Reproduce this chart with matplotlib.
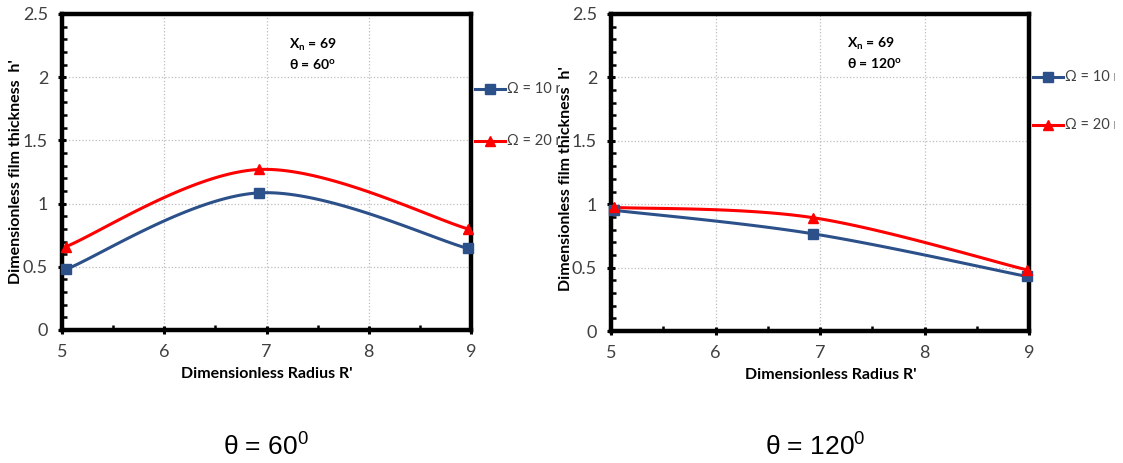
import numpy as np
import matplotlib
matplotlib.use("Agg")
import matplotlib.pyplot as plt
from matplotlib.lines import Line2D
from matplotlib.transforms import Bbox
from matplotlib.ticker import MultipleLocator

plt.rcParams['font.family'] = ['Lato', 'DejaVu Sans']
plt.rcParams['mathtext.fontset'] = 'custom'
plt.rcParams['mathtext.rm'] = 'Lato:bold'
plt.rcParams['mathtext.it'] = 'Lato:bold'
plt.rcParams['mathtext.bf'] = 'Lato:bold'
plt.rcParams['mathtext.sf'] = 'Liberation Sans'

# ---------------- data ----------------
radius_60 = [5.04, 6.93, 8.97]
h_60_omega10 = [0.48, 1.085, 0.645]
h_60_omega20 = [0.66, 1.27, 0.80]

radius_120 = [5.03, 6.93, 8.98]
h_120_omega10 = [0.952, 0.767, 0.43]
h_120_omega20 = [0.975, 0.894, 0.482]

series_labels = ["Ω = 10 rpm", "Ω = 20 rpm"]
panel_notes = [["X$_{\\mathrm{n}}$ = 69", "θ = 60$^{\\mathrm{o}}$"],
               ["X$_{\\mathrm{n}}$ = 69", "θ = 120$^{\\mathrm{o}}$"]]
captions = ["θ = $\\mathsf{60}^{\\mathsf{0}}$", "θ = $\\mathsf{120}^{\\mathsf{0}}$"]
x_ticks = [5, 6, 7, 8, 9]
y_ticks = [0, 0.5, 1, 1.5, 2, 2.5]
y_ticklabels = ["0", "0.5", "1", "1.5", "2", "2.5"]
xlabel = "Dimensionless Radius R'"
ylabel = "Dimensionless film thickness  h'"

BLUE = '#2C5089'
RED = '#FF0000'

W, H = 1123, 463
fig = plt.figure(figsize=(W / 100, H / 100), dpi=100)


def smooth(x, y, n=60):
    """Excel-style smoothed line (Catmull-Rom Bezier) through the points."""
    pts = np.column_stack([x, y]).astype(float)
    P = np.vstack([pts[0], pts, pts[-1]])
    out = []
    for i in range(len(pts) - 1):
        p0, p1, p2, p3 = P[i], P[i + 1], P[i + 2], P[i + 3]
        c1 = p1 + (p2 - p0) / 6.0
        c2 = p2 - (p3 - p1) / 6.0
        t = np.linspace(0, 1, n)[:, None]
        seg = (1 - t) ** 3 * p1 + 3 * (1 - t) ** 2 * t * c1 + 3 * (1 - t) * t ** 2 * c2 + t ** 3 * p2
        out.append(seg if i == 0 else seg[1:])
    s = np.vstack(out)
    return s[:, 0], s[:, 1]


def px_axes(l, r, t, b):
    return fig.add_axes([l / W, (H - b) / H, (r - l) / W, (b - t) / H])


panels = [
    dict(box=(62, 471, 14, 330), x=radius_60, y1=h_60_omega10, y2=h_60_omega20,
         note=panel_notes[0], note_xy=(7.22, 2.185), ylab=(-0.112, 0.5), xlab=(0.501, -0.139),
         leg_x=475, leg_y=(89, 141), clip_r=560, cap=captions[0], cap_x=266),
    dict(box=(611, 1029, 14, 331), x=radius_120, y1=h_120_omega10, y2=h_120_omega20,
         note=panel_notes[1], note_xy=(7.26, 2.19), ylab=(-0.108, 0.48), xlab=(0.526, -0.139),
         leg_x=1033, leg_y=(77, 125), clip_r=1115, cap=captions[1], cap_x=815),
]

for p in panels:
    l, r, t, b = p['box']
    ax = px_axes(l, r, t, b)
    ax.set_xlim(5, 9)
    ax.set_ylim(0, 2.5)
    ax.set_xticks(x_ticks)
    ax.set_yticks(y_ticks)
    ax.set_yticklabels(y_ticklabels)
    ax.xaxis.set_minor_locator(MultipleLocator(0.5))
    ax.yaxis.set_minor_locator(MultipleLocator(0.1))
    ax.grid(True, which='major', color='#BDBDBD', linestyle=':', linewidth=0.9)
    for s in ax.spines.values():
        s.set_linewidth(3.2)
        s.set_color('black')
    ax.tick_params(which='major', direction='inout', length=6, width=2.2,
                   colors='black', labelcolor='#404040')
    ax.tick_params(axis='both', which='major', labelsize=13)
    ax.tick_params(axis='y', which='major', pad=7)
    ax.tick_params(axis='x', which='major', pad=7)
    ax.tick_params(which='minor', direction='in', length=3.5, width=1.8, colors='black')

    for yv, col, mk in [(p['y1'], BLUE, 's'), (p['y2'], RED, '^')]:
        sx, sy = smooth(p['x'], yv)
        ax.plot(sx, sy, color=col, lw=2.2, solid_capstyle='round', clip_on=False, zorder=3)
        ax.plot(p['x'], yv, linestyle='none', marker=mk, color=col, markersize=7,
                clip_on=False, zorder=4)

    ax.text(p['note_xy'][0], p['note_xy'][1], p['note'][0] + "\n" + p['note'][1],
            fontsize=10, fontweight='bold', ha='left', va='center', linespacing=1.35,
            color='black')

    ax.set_xlabel(xlabel, fontsize=11.5, fontweight='bold', color='black', va='center')
    ax.xaxis.set_label_coords(*p['xlab'])
    ax.set_ylabel(ylabel, fontsize=11.5, fontweight='bold', color='black', va='center')
    ax.yaxis.set_label_coords(*p['ylab'])

    # legend drawn outside the plot, clipped at the panel's right border
    clip = Bbox.from_extents(0, 0, p['clip_r'], H)
    for yy, col, mk, lab in [(p['leg_y'][0], BLUE, 's', series_labels[0]),
                             (p['leg_y'][1], RED, '^', series_labels[1])]:
        x0 = p['leg_x']
        x1 = x0 + 30
        fy = (H - yy) / H
        fig.add_artist(Line2D([x0 / W, x1 / W], [fy, fy], color=col, lw=2.2,
                              transform=fig.transFigure))
        fig.add_artist(Line2D([(x0 + 15) / W], [fy], color=col, marker=mk, markersize=7,
                              linestyle='none', transform=fig.transFigure))
        tx = fig.text((x1 + 2) / W, fy, lab, fontsize=10.5, ha='left', va='center',
                      color='#404040', family=['Lato', 'DejaVu Sans'])
        tx.set_clip_box(clip)
        tx.set_clip_on(True)

    fig.text(p['cap_x'] / W, (H - 447) / H, p['cap'], fontsize=19, ha='center', va='center',
             family=['Liberation Sans', 'DejaVu Sans'], color='black')

fig.savefig('out.png', dpi=100)
